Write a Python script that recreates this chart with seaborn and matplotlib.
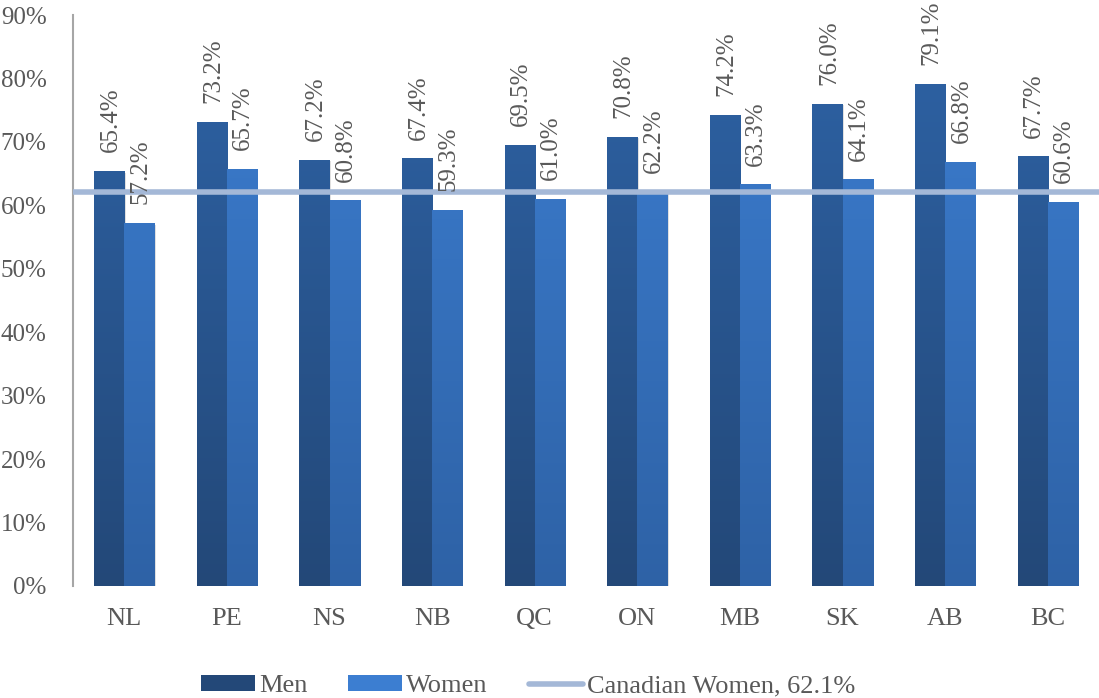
import numpy as np
import pandas as pd
import matplotlib
matplotlib.use("Agg")
import matplotlib.pyplot as plt
import seaborn as sns
from matplotlib.colors import LinearSegmentedColormap
from matplotlib.patches import Patch
from matplotlib.lines import Line2D

provinces = ["NL", "PE", "NS", "NB", "QC", "ON", "MB", "SK", "AB", "BC"]
men = [65.4, 73.2, 67.2, 67.4, 69.5, 70.8, 74.2, 76.0, 79.1, 67.7]
women = [57.2, 65.7, 60.8, 59.3, 61.0, 62.2, 63.3, 64.1, 66.8, 60.6]
canadian_women = 62.1
y_ticks = [0, 10, 20, 30, 40, 50, 60, 70, 80, 90]

df = pd.DataFrame({
    "Province": provinces * 2,
    "Sex": ["Men"] * len(provinces) + ["Women"] * len(provinces),
    "Rate": men + women,
})

sns.set_theme(style="white")
plt.rcParams["font.family"] = ["Liberation Serif", "DejaVu Serif"]

text_color = "#595959"
men_top, men_bot = "#2E63A6", "#234878"
wom_top, wom_bot = "#3C7ED1", "#2E62A6"
line_color = "#A4B8D7"

fig = plt.figure(figsize=(10.99, 6.98), dpi=100)
ax = fig.add_axes([73 / 1099, (698 - 586) / 698, 1 - 73 / 1099, (586 - 15) / 698])

sns.barplot(data=df, x="Province", y="Rate", hue="Sex", order=provinces,
            hue_order=["Men", "Women"], palette=[men_top, wom_top],
            width=0.585, gap=0, saturation=1, ax=ax, legend=False)

ax.set_ylim(0, 90)
ax.set_xlim(-0.5, len(provinces) - 0.5)

# vertical gradient fill for each bar, with a soft drop shadow
grad = np.linspace(0, 1, 256).reshape(-1, 1)
bars = list(ax.patches)
for i, bar in enumerate(bars):
    is_men = i < len(provinces)
    top, bot = (men_top, men_bot) if is_men else (wom_top, wom_bot)
    cmap = LinearSegmentedColormap.from_list("g", [bot, top])
    x0, y0 = bar.get_x(), bar.get_y()
    w, h = bar.get_width(), bar.get_height()
    shadow = plt.Rectangle((x0 + 0.012, y0 - 0.25), w, h, color="#000000",
                           alpha=0.12, lw=0, zorder=1.5)
    ax.add_patch(shadow)
    im = ax.imshow(grad, extent=[x0, x0 + w, 0, 90], origin="lower",
                   aspect="auto", cmap=cmap, zorder=2, vmin=0, vmax=1)
    im.set_clip_path(bar)
    bar.set_facecolor("none")
    bar.set_edgecolor("none")
    bar.set_zorder(2)
    val = men[i] if is_men else women[i - len(provinces)]
    ax.annotate(f"{val:.1f}%", (x0 + w / 2, h), xytext=(1, 13.5),
                textcoords="offset points", rotation=90, ha="center",
                va="bottom", fontsize=18, color=text_color, zorder=4,
                annotation_clip=False)

ax.set_aspect("auto")
ax.axhline(canadian_women, color=line_color, lw=4, zorder=3)

ax.set_yticks(y_ticks)
ax.set_yticklabels([f"{t}%" for t in y_ticks])
ax.tick_params(axis="y", length=0, labelsize=18, colors=text_color, pad=19)
ax.tick_params(axis="x", length=0, labelsize=19, colors=text_color, pad=16)
ax.set_xlabel("")
ax.set_ylabel("")
for side in ["top", "right", "bottom"]:
    ax.spines[side].set_visible(False)
ax.spines["left"].set_color("#A6A6A6")
ax.spines["left"].set_linewidth(1.5)

handles = [
    Patch(facecolor=men_bot, edgecolor="none", label="Men"),
    Patch(facecolor=wom_top, edgecolor="none", label="Women"),
    Line2D([0], [0], color=line_color, lw=4, label="Canadian Women, 62.1%"),
]
fig.legend(handles=handles, loc="center", bbox_to_anchor=(528 / 1099, 1 - 686 / 698),
           ncol=3, frameon=False, fontsize=19, labelcolor=text_color,
           handlelength=2.05, handleheight=0.6, handletextpad=0.15, columnspacing=1.55)

fig.savefig("out.png", dpi=100)
